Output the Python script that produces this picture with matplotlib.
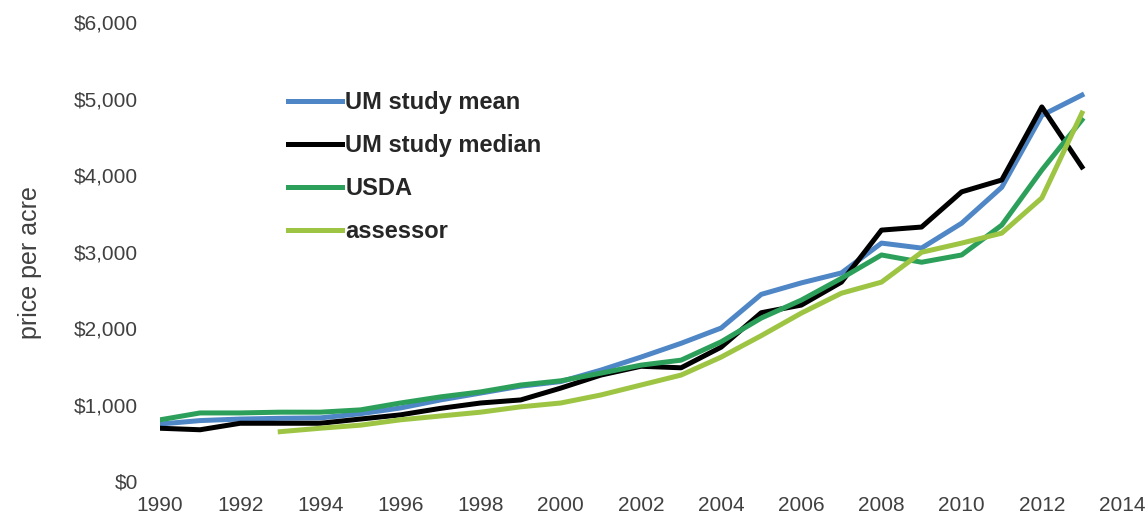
import matplotlib
matplotlib.use("Agg")
import matplotlib.pyplot as plt
from matplotlib.ticker import FuncFormatter

plt.rcParams['font.family'] = ['Liberation Sans', 'DejaVu Sans']

years = list(range(1990, 2014))
um_mean = [745, 790, 810, 820, 825, 880, 955, 1060, 1150, 1240, 1300, 1450, 1620,
           1800, 2000, 2440, 2590, 2720, 3110, 3045, 3370, 3840, 4780, 5045]
um_median = [690, 670, 755, 755, 755, 810, 865, 950, 1020, 1060, 1215, 1385, 1500,
             1480, 1750, 2200, 2300, 2600, 3280, 3320, 3780, 3935, 4890, 4105]
usda = [800, 890, 890, 900, 900, 930, 1020, 1100, 1165, 1255, 1310, 1410, 1515,
        1580, 1820, 2130, 2365, 2650, 2955, 2860, 2955, 3345, 4065, 4720]
assessor_years = list(range(1993, 2014))
assessor = [645, 690, 730, 800, 850, 900, 970, 1020, 1125, 1255, 1385, 1620,
            1900, 2195, 2455, 2600, 2990, 3110, 3240, 3700, 4810]

labels = ["UM study mean", "UM study median", "USDA", "assessor"]
colors = ["#4F86C6", "#000000", "#2CA05A", "#9DC543"]

fig = plt.figure(figsize=(11.47, 5.17), dpi=100)
left, right = 160 / 1147, 1122 / 1147
ax = fig.add_axes([left, 0.0696, right - left, 0.9574 - 0.0696])

lw = 3.6
ax.plot(years, um_mean, color=colors[0], lw=lw, label=labels[0])
ax.plot(years, um_median, color=colors[1], lw=lw, label=labels[1])
ax.plot(years, usda, color=colors[2], lw=lw, label=labels[2])
ax.plot(assessor_years, assessor, color=colors[3], lw=lw, label=labels[3])

ax.set_xlim(1990, 2014)
ax.set_ylim(0, 6000)
ax.set_xticks(range(1990, 2015, 2))
ax.set_yticks(range(0, 6001, 1000))
ax.yaxis.set_major_formatter(FuncFormatter(lambda v, p: f"${int(v):,}"))

for s in ax.spines.values():
    s.set_visible(False)
ax.tick_params(axis='both', length=0, labelsize=15, colors='#404040')
ax.tick_params(axis='y', pad=16)
ax.tick_params(axis='x', pad=11)

ax.set_ylabel("price per acre", fontsize=18, color='#404040')
ax.yaxis.set_label_coords(-0.123, 0.477)

leg = ax.legend(loc='upper left', bbox_to_anchor=(0.123, 0.870), frameon=False,
                borderaxespad=0, handlelength=2.3, handletextpad=0.13,
                labelspacing=0.85, prop={'size': 17, 'weight': 'bold'})
for t in leg.get_texts():
    t.set_color('#262626')
for h in leg.get_lines():
    h.set_linewidth(lw)

fig.savefig("out.png", dpi=100)
